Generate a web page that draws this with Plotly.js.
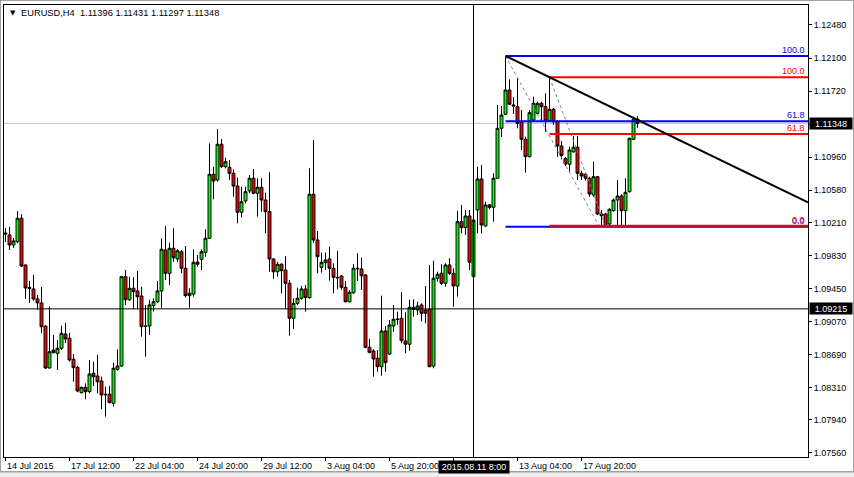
<!DOCTYPE html>
<html><head><meta charset="utf-8">
<script src="https://cdn.plot.ly/plotly-3.0.1.min.js"></script>
<style>html,body{margin:0;padding:0;background:#fff;overflow:hidden}#chart{width:854px;height:477px}</style>
</head><body><div id="chart"></div>
<script>
// EURUSD H4 candles, bar 0 = 14 Jul 2015 20:00
const openP = [1.10088,1.10065,1.09950,1.09987,1.10257,1.09720,1.09461,1.09444,1.09329,1.09283,
1.09018,1.08535,1.08742,1.08704,1.08762,1.08926,1.08877,1.08635,1.08543,1.08251,
1.08313,1.08263,1.08474,1.08443,1.08385,1.08233,1.08233,1.08129,1.08520,1.08558,
1.09585,1.09320,1.09452,1.09421,1.09363,1.09018,1.09018,1.09252,1.09297,1.09421,
1.09892,1.09624,1.09912,1.09789,1.09872,1.09682,1.09367,1.09386,1.09754,1.09785,
1.09865,1.10027,1.10763,1.10697,1.11108,1.10850,1.10843,1.10774,1.10628,1.10326,
1.10456,1.10571,1.10717,1.10544,1.10613,1.10467,1.10333,1.09789,1.09642,1.09728,
1.09662,1.09509,1.09107,1.09279,1.09337,1.09444,1.09344,1.10533,1.10007,1.09693,
1.09746,1.09789,1.09682,1.09578,1.09593,1.09463,1.09297,1.09401,1.09682,1.09674,
1.09605,1.08773,1.08731,1.08647,1.08550,1.08961,1.08696,1.09018,1.09099,1.09107,
1.08846,1.08808,1.09210,1.09202,1.09260,1.09202,1.09210,1.08558,1.09567,1.09624,
1.09509,1.09720,1.09624,1.09478,1.10217,1.10149,1.10283,1.09585,1.10352,1.10709,
1.10168,1.10410,1.10383,1.10717,1.11292,1.11453,1.11732,1.11560,1.11540,1.11367,
1.11165,1.10965,1.11387,1.11464,1.11579,1.11540,1.11375,1.11510,1.11367,1.11088,
1.10944,1.10878,1.11022,1.11073,1.10774,1.10763,1.10717,1.10525,1.10735,1.10306,
1.10306,1.10191,1.10344,1.10467,1.10513,1.10344,1.10563,1.11165,1.11396];
const highP = [1.10145,1.10157,1.10030,1.10341,1.10306,1.09725,1.09536,1.09605,1.09375,1.09467,
1.09025,1.09240,1.08915,1.08857,1.09021,1.09053,1.08938,1.08696,1.08558,1.08320,
1.08359,1.08627,1.08607,1.08685,1.08435,1.08320,1.08328,1.08596,1.08750,1.09593,
1.09662,1.09585,1.09578,1.09651,1.09470,1.09260,1.09320,1.09337,1.09536,1.10027,
1.10168,1.09976,1.10142,1.09900,1.09892,1.09938,1.09452,1.09900,1.09835,1.09900,
1.10130,1.11119,1.10850,1.11284,1.11169,1.10953,1.10927,1.10820,1.10723,1.10620,
1.10620,1.10755,1.10824,1.10717,1.10717,1.10551,1.10786,1.09795,1.09757,1.09739,
1.09823,1.09547,1.09337,1.09459,1.09478,1.09490,1.10832,1.11157,1.10110,1.09861,
1.09865,1.09930,1.09739,1.09882,1.09605,1.09536,1.09432,1.09728,1.09854,1.09803,
1.09613,1.08869,1.08750,1.08742,1.09367,1.09018,1.09087,1.09260,1.09183,1.09406,
1.09176,1.09320,1.09325,1.09297,1.09279,1.09478,1.09720,1.09769,1.09642,1.09728,
1.09739,1.09797,1.09682,1.10341,1.10410,1.10352,1.10352,1.10314,1.10850,1.10870,
1.10447,1.10421,1.10774,1.11560,1.11548,1.12123,1.11855,1.11652,1.11867,1.11502,
1.11195,1.11502,1.11655,1.11597,1.11597,1.11694,1.11878,1.11525,1.11387,1.11146,
1.10962,1.11080,1.11203,1.11203,1.10804,1.10781,1.10735,1.10907,1.10743,1.10352,
1.10321,1.10372,1.10487,1.10697,1.10533,1.10717,1.11182,1.11425,1.11431];
const lowP = [1.09984,1.09892,1.09915,1.09973,1.09697,1.09329,1.09283,1.09309,1.09202,1.08938,
1.08524,1.08530,1.08704,1.08512,1.08742,1.08823,1.08607,1.08377,1.08256,1.08244,
1.08175,1.08244,1.08328,1.08244,1.08060,1.07975,1.08129,1.08090,1.08504,1.08550,
1.09260,1.09309,1.09210,1.09210,1.08895,1.08665,1.08915,1.09183,1.09283,1.09222,
1.09547,1.09490,1.09757,1.09757,1.09624,1.09344,1.09228,1.09355,1.09700,1.09662,
1.09815,1.10019,1.10475,1.10677,1.10838,1.10831,1.10697,1.10505,1.10199,1.10268,
1.10429,1.10544,1.10533,1.10275,1.10333,1.10084,1.09642,1.09559,1.09585,1.09394,
1.09214,1.08907,1.08984,1.09260,1.09320,1.09183,1.09332,1.09976,1.09624,1.09631,
1.09662,1.09539,1.09394,1.09440,1.09432,1.09288,1.09288,1.09386,1.09536,1.09432,
1.08762,1.08704,1.08435,1.08493,1.08446,1.08493,1.08685,1.08953,1.09030,1.08819,
1.08704,1.08734,1.09125,1.09145,1.09071,1.09049,1.08545,1.08532,1.09528,1.09490,
1.09470,1.09605,1.09240,1.09355,1.10084,1.10065,1.09662,1.09567,1.10084,1.10084,
1.10160,1.10360,1.10217,1.10712,1.11192,1.11444,1.11560,1.11456,1.11292,1.11042,
1.10781,1.10958,1.11367,1.11453,1.11367,1.11252,1.11367,1.11330,1.10962,1.10933,
1.10858,1.10793,1.11011,1.10697,1.10697,1.10689,1.10505,1.10505,1.10295,1.10180,
1.10170,1.10180,1.10333,1.10180,1.10180,1.10180,1.10551,1.11157,1.11297];
const closeP = [1.10076,1.09950,1.09996,1.10257,1.09708,1.09455,1.09449,1.09329,1.09283,1.09010,
1.08535,1.08722,1.08711,1.08762,1.08934,1.08869,1.08627,1.08538,1.08271,1.08313,
1.08263,1.08466,1.08435,1.08377,1.08225,1.08228,1.08136,1.08532,1.08558,1.09585,
1.09320,1.09452,1.09413,1.09355,1.09010,1.09013,1.09260,1.09297,1.09421,1.09900,
1.09624,1.09912,1.09803,1.09882,1.09682,1.09367,1.09394,1.09751,1.09728,1.09872,
1.10027,1.10763,1.10686,1.11108,1.10850,1.10907,1.10774,1.10628,1.10326,1.10447,
1.10563,1.10717,1.10544,1.10613,1.10467,1.10333,1.09789,1.09642,1.09728,1.09654,
1.09509,1.09107,1.09279,1.09337,1.09444,1.09344,1.10533,1.10007,1.09815,1.09751,
1.09777,1.09682,1.09578,1.09573,1.09463,1.09297,1.09406,1.09682,1.09677,1.09596,
1.08773,1.08715,1.08639,1.08550,1.08961,1.08596,1.09030,1.09095,1.09094,1.08849,
1.08808,1.09233,1.09233,1.09248,1.09164,1.09164,1.08550,1.09567,1.09613,1.09509,
1.09720,1.09624,1.09478,1.10217,1.10149,1.10283,1.09751,1.10237,1.10709,1.10180,
1.10410,1.10383,1.10717,1.11292,1.11444,1.11732,1.11568,1.11548,1.11349,1.11165,
1.10965,1.11471,1.11579,1.11579,1.11540,1.11375,1.11510,1.11367,1.11088,1.10979,
1.10881,1.11042,1.11073,1.10774,1.10743,1.10717,1.10536,1.10735,1.10306,1.10286,
1.10180,1.10360,1.10467,1.10513,1.10344,1.10556,1.11177,1.11395,1.11348];

const timeTickBars = [0,16,32,48,64,80,96,112,128,144];
const timeTickLabels = ['14 Jul 2015','17 Jul 12:00','22 Jul 04:00','24 Jul 20:00','29 Jul 12:00','3 Aug 04:00','5 Aug 20:00','','13 Aug 04:00','17 Aug 20:00'];
const priceTicks = [1.12480,1.12100,1.11720,1.11340,1.10960,1.10580,1.10210,1.09830,1.09450,1.09070,1.08690,1.08310,1.07940,1.07560];
const hiddenPriceTicks = [1.11340];

const symbolTitle = 'EURUSD,H4';
const bidPrice = 1.11348;
const crossBar = 117;
const crossTime = '2015.08.11 8:00';
const crossPrice = 1.09215;

// Fibonacci retracements: [startBar, endBar, price100, price0]
const fibBlueAnchors = [125, 148.5, 1.12123, 1.10158];
const fibRedAnchors = [136, 150, 1.11878, 1.10170];
const fibLevels = [0, 0.618, 1.0];
const fibLevelText = ['0.0', '61.8', '100.0'];
// Trend line through two highs
const trendPts = [[125, 1.12123], [136, 1.11878]];

const FONT = 'Liberation Sans, Arial, sans-serif';
const FS = 9;
const X_MIN = -0.375, X_MAX = 200.625;
const xs = openP.map((_, i) => i);

const trace = {
  type: 'candlestick', x: xs, open: openP, high: highP, low: lowP, close: closeP,
  increasing: {line: {color: '#000000', width: 1}, fillcolor: '#00ff00'},
  decreasing: {line: {color: '#000000', width: 1}, fillcolor: '#ff0000'},
  whiskerwidth: 0, hoverinfo: 'skip', showlegend: false
};

const shapes = [];
shapes.push({type:'line', xref:'paper', x0:0, x1:1, yref:'y', y0:bidPrice, y1:bidPrice, line:{color:'#c0c0c0', width:1}, layer:'below'});
function addFib(a, color) {
  shapes.push({type:'line', xref:'x', yref:'y', x0:a[0], y0:a[2], x1:a[1], y1:a[3], line:{color:'#808080', width:1, dash:'dot'}});
  fibLevels.forEach(l => {
    const p = a[3] + l * (a[2] - a[3]);
    shapes.push({type:'line', xref:'x', yref:'y', x0:a[0], x1:X_MAX, y0:p, y1:p, line:{color:color, width:2}});
  });
}
addFib(fibBlueAnchors, '#0000ff');
addFib(fibRedAnchors, '#ff0000');
const slope = (trendPts[1][1] - trendPts[0][1]) / (trendPts[1][0] - trendPts[0][0]);
shapes.push({type:'line', xref:'x', yref:'y', x0:trendPts[0][0], y0:trendPts[0][1], x1:X_MAX, y1:trendPts[0][1] + slope * (X_MAX - trendPts[0][0]), line:{color:'#000000', width:2}});
shapes.push({type:'line', xref:'paper', x0:0, x1:1, yref:'y', y0:crossPrice, y1:crossPrice, line:{color:'#000000', width:1}});
shapes.push({type:'line', xref:'x', x0:crossBar, x1:crossBar, yref:'paper', y0:0, y1:1, line:{color:'#000000', width:1}});
// window frame
shapes.push({type:'rect', xref:'paper', yref:'paper', x0:-4/804, x1:850/804, y0:-15/452, y1:457/452, line:{color:'#a0a0a0', width:2}, fillcolor:'rgba(0,0,0,0)'});
shapes.push({type:'rect', xref:'paper', yref:'paper', x0:-4/804, x1:850/804, y0:-20/452, y1:-15.5/452, line:{width:0}, fillcolor:'#f0f0f0'});

const annotations = [];
annotations.push({xref:'paper', yref:'paper', x:0, y:1, xanchor:'left', yanchor:'middle', xshift:4, yshift:-8, text:'▼', showarrow:false, font:{family:'DejaVu Sans', size:7, color:'#000'}});
annotations.push({xref:'paper', yref:'paper', x:0, y:1, xanchor:'left', yanchor:'middle', xshift:15, yshift:-8,
  text: symbolTitle + '\u00a0\u00a0' + [openP, highP, lowP, closeP].map(a => a[a.length-1].toFixed(5)).join(' '),
  showarrow:false, font:{family:FONT, size:9.3, color:'#000'}});
timeTickBars.forEach((b, i) => {
  if (!timeTickLabels[i]) return;
  annotations.push({xref:'x', yref:'paper', x:b, y:0, xanchor:'left', yanchor:'top', xshift:-1, yshift:-2, text:timeTickLabels[i], showarrow:false, font:{family:FONT, size:FS, color:'#000'}});
});
annotations.push({xref:'x', yref:'paper', x:crossBar, y:0, xanchor:'center', yanchor:'top', yshift:-3, text:crossTime, showarrow:false, bgcolor:'#000', borderpad:0, width:70, height:12, font:{family:FONT, size:FS, color:'#fff'}});
[bidPrice, crossPrice].forEach(p => {
  annotations.push({xref:'paper', yref:'y', x:1, y:p, xanchor:'left', yanchor:'middle', xshift:1, text:p.toFixed(5), showarrow:false, bgcolor:'#000', borderpad:0, width:42, height:11, font:{family:FONT, size:FS, color:'#fff'}});
});
function fibLabels(a, color) {
  fibLevels.forEach((l, i) => {
    const p = a[3] + l * (a[2] - a[3]);
    annotations.push({xref:'paper', yref:'y', x:1, y:p, xanchor:'right', yanchor:'bottom', xshift:-1, yshift:-1, text:fibLevelText[i], showarrow:false, font:{family:FONT, size:FS, color:color}});
  });
}
fibLabels(fibBlueAnchors, '#0000ff');
fibLabels(fibRedAnchors, '#ff0000');

const layout = {
  width: 854, height: 477,
  margin: {l:4, r:46, t:5, b:20, pad:0},
  paper_bgcolor: '#ffffff', plot_bgcolor: '#ffffff',
  showlegend: false, boxgap: 0.27, boxgroupgap: 0,
  xaxis: {range:[X_MIN, X_MAX], showgrid:false, zeroline:false, showline:true, mirror:true, linecolor:'#000', linewidth:1,
    ticks:'outside', ticklen:3, tickcolor:'#000', tickvals:timeTickBars, showticklabels:false, rangeslider:{visible:false}, fixedrange:true},
  yaxis: {side:'right', range:[1.075115, 1.127095], showgrid:false, zeroline:false, showline:true, mirror:true, linecolor:'#000', linewidth:1,
    ticks:'outside', ticklen:3, tickcolor:'#000', tickvals:priceTicks,
    ticktext: priceTicks.map(v => hiddenPriceTicks.includes(v) ? '' : v.toFixed(5)),
    tickfont:{family:FONT, size:FS, color:'#000'}, fixedrange:true},
  shapes: shapes, annotations: annotations
};
Plotly.newPlot('chart', [trace], layout, {staticPlot:true, displayModeBar:false});
</script></body></html>
